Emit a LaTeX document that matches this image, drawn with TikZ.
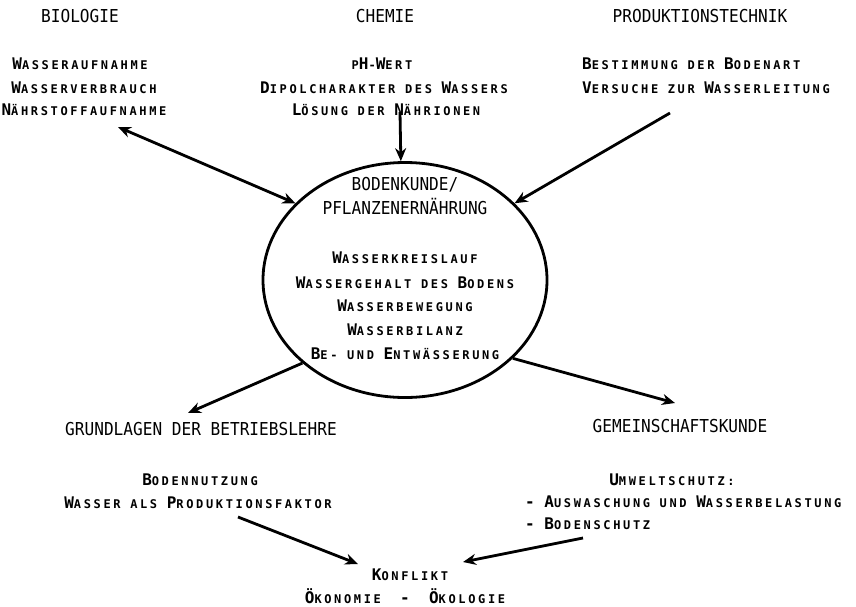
\documentclass[tikz,border=0pt]{standalone}
\usepackage{fontspec}
\usetikzlibrary{arrows.meta,shapes.geometric}

% lettering: monospaced sans, headings slightly condensed
\newfontfamily\headfont[FakeStretch=0.905]{DejaVu Sans Mono}
\newfontfamily\capfont{DejaVu Sans Mono}
\newfontfamily\scfont[LetterSpace=22]{DejaVu Sans Mono}
% small capitals set by hand: smaller caps, letterspaced to keep the grid
\newcommand\Sc[1]{{\scfont\bfseries\fontsize{12pt}{24pt}\selectfont #1}}

\tikzset{
  head/.style={font=\headfont\fontsize{17.8pt}{24pt}\selectfont, inner sep=0pt, anchor=base},
  item/.style={font=\capfont\bfseries\fontsize{16pt}{24pt}\selectfont, inner sep=0pt, anchor=base},
  itemleft/.style={item, anchor=base west},
  arr/.style={line width=2.8pt, ->},
  arrboth/.style={line width=2.8pt, <->},
  core/.style={ellipse, draw, line width=2.8pt, minimum width=284pt, minimum height=235pt, inner sep=0pt}
}

\begin{document}
\begin{tikzpicture}[x=1pt,y=-1pt,>={Stealth[length=13pt,width=11pt]}]
\useasboundingbox (0,0) rectangle (856,606);

% subject headings
\node[head] (bio)  at (80,22)  {BIOLOGIE};
\node[head] (chem) at (385,22) {CHEMIE};
\node[head] (prod) at (700,22) {PRODUKTIONSTECHNIK};

% Biologie
\node[item] (bio1) at (80,69)  {W\Sc{ASSERAUFNAHME}};
\node[item] (bio2) at (84,93)  {W\Sc{ASSERVERBRAUCH}};
\node[item] (bio3) at (84,115) {N\Sc{ÄHRSTOFFAUFNAHME}};

% Chemie
\node[item] (chem1) at (382,69)  {\Sc{P}H\Sc{-}W\Sc{ERT}};
\node[item] (chem2) at (384,93)  {D\Sc{IPOLCHARAKTER} \Sc{DES} W\Sc{ASSERS}};
\node[item] (chem3) at (386,115) {L\Sc{ÖSUNG} \Sc{DER} N\Sc{ÄHRIONEN}};

% Produktionstechnik
\node[itemleft] (prod1) at (582,69) {B\Sc{ESTIMMUNG} \Sc{DER} B\Sc{ODENART}};
\node[itemleft] (prod2) at (582,93) {V\Sc{ERSUCHE} \Sc{ZUR} W\Sc{ASSERLEITUNG}};

% central ellipse
\node[core] (ell) at (405,280) {};
\node[head] (bk1) at (405,190) {BODENKUNDE/};
\node[head] (bk2) at (405,214) {PFLANZENERNÄHRUNG};
\node[item] (bk3) at (405,263) {W\Sc{ASSERKREISLAUF}};
\node[item] (bk4) at (405,288) {W\Sc{ASSERGEHALT} \Sc{DES} B\Sc{ODENS}};
\node[item] (bk5) at (405,311) {W\Sc{ASSERBEWEGUNG}};
\node[item] (bk6) at (405,335) {W\Sc{ASSERBILANZ}};
\node[item] (bk7) at (405,359) {B\Sc{E-} \Sc{UND} E\Sc{NTWÄSSERUNG}};

% lower subjects
\node[head] (betr) at (201,435) {GRUNDLAGEN DER BETRIEBSLEHRE};
\node[head] (gem)  at (680,432) {GEMEINSCHAFTSKUNDE};

\node[item] (betr1) at (200,485) {B\Sc{ODENNUTZUNG}};
\node[item] (betr2) at (198,508) {W\Sc{ASSER} \Sc{ALS} P\Sc{RODUKTIONSFAKTOR}};

\node[item] (gem1) at (672,485) {U\Sc{MWELTSCHUTZ:}};
\node[itemleft] (gem2) at (525,507) {- A\Sc{USWASCHUNG} \Sc{UND} W\Sc{ASSERBELASTUNG}};
\node[itemleft] (gem3) at (525,529) {- B\Sc{ODENSCHUTZ}};

% conflict
\node[item] (kon1) at (410,580) {K\Sc{ONFLIKT}};
\node[item] (kon2) at (405,603) {Ö\Sc{KONOMIE}\ \ -\ \ Ö\Sc{KOLOGIE}};

% free ends of the connectors
\coordinate (bioE)  at (118,127);
\coordinate (chemE) at (400,112);
\coordinate (prodE) at (670,113);
\coordinate (betrE) at (188,413);
\coordinate (gemE)  at (675,403);
\coordinate (betrS) at (238,517);
\coordinate (konL)  at (358,564);
\coordinate (gemS)  at (583,538);
\coordinate (konR)  at (463,562);

% connectors
\draw[arrboth] (bioE) -- (ell.145);
\draw[arr] (chemE) -- (ell.92);
\draw[arr] (prodE) -- (ell.35);
\draw[arr] (ell.219) -- (betrE);
\draw[arr] (ell.-36) -- (gemE);
\draw[arr] (betrS) -- (konL);
\draw[arr] (gemS) -- (konR);
\end{tikzpicture}
\end{document}
